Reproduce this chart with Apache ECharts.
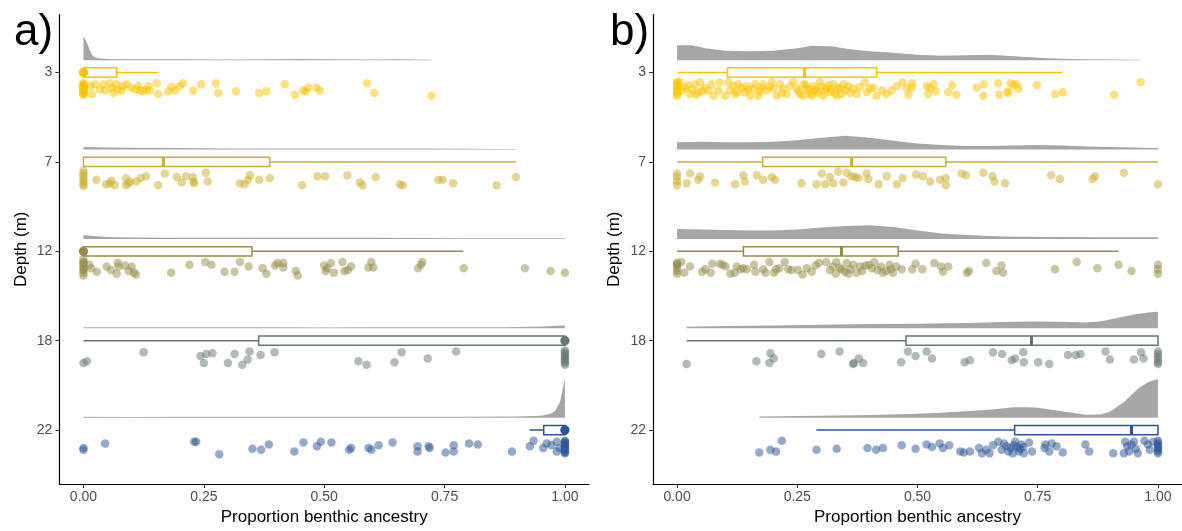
<!DOCTYPE html>
<html><head><meta charset="utf-8">
<script src="https://cdn.jsdelivr.net/npm/echarts@6/dist/echarts.min.js"></script>
<style>html,body{margin:0;padding:0;background:#fff}#c{width:1182px;height:531px}</style>
</head><body><div id="c"></div>
<script>
// ---------- DATA ----------
const depthLabels = ['3','7','12','18','22'];
const xTicks = [0, 0.25, 0.5, 0.75, 1];
const xTitle = 'Proportion benthic ancestry';
const yTitle = 'Depth (m)';
const panelTags = ['a)', 'b)'];

// boxplot stats per depth: [lower whisker, Q1, median, Q3, upper whisker]
const boxA = [
  [0, 0, 0, 0.069, 0.155],
  [0, 0, 0.166, 0.387, 0.898],
  [0, 0, 0, 0.350, 0.789],
  [0, 0.364, 1, 1, 1],
  [0.927, 0.956, 1, 1, 1]
];
const boxB = [
  [0, 0.105, 0.265, 0.415, 0.801],
  [0, 0.178, 0.363, 0.559, 1.0],
  [0, 0.138, 0.342, 0.460, 0.918],
  [0.020, 0.476, 0.737, 1, 1],
  [0.290, 0.702, 0.945, 1, 1]
];

// half-violin densities: [x, relative density]
const densA3 = [[0,24],[0.005,20],[0.01,14],[0.015,8],[0.02,4],[0.03,2],[0.05,1.2],[0.1,1],[0.2,1],[0.3,0.8],[0.4,1],[0.45,1.2],[0.5,1],[0.6,0.8],[0.65,1],[0.723,0.5]];
const densA7 = [[0,2.5],[0.05,2],[0.1,1.8],[0.2,1.5],[0.3,1.2],[0.4,1.2],[0.5,1],[0.6,1],[0.7,1],[0.8,0.8],[0.898,0.5]];
const densA12 = [[0,4],[0.02,3],[0.05,2],[0.1,1.5],[0.2,1.2],[0.3,1.2],[0.4,1.2],[0.5,1.2],[0.6,1.2],[0.7,1],[0.8,0.8],[0.9,0.8],[1,0.8]];
const densA18 = [[0,1],[0.1,1],[0.2,1],[0.3,1],[0.4,1],[0.5,0.9],[0.6,1],[0.7,1],[0.8,1],[0.88,1.2],[0.95,2],[1,3]];
const densA22 = [[0,1],[0.1,0.8],[0.2,1],[0.3,1],[0.4,1],[0.5,1],[0.6,1],[0.7,1],[0.8,1],[0.9,1.2],[0.95,2],[0.97,4],[0.98,7],[0.99,16],[1,40]];
const densB3 = [[0,15],[0.03,15],[0.06,12],[0.1,9.5],[0.15,9],[0.2,9.5],[0.25,12],[0.28,14.5],[0.32,14],[0.36,11],[0.4,9],[0.45,7.5],[0.5,5.5],[0.55,4.5],[0.6,5],[0.65,5.5],[0.7,4],[0.75,2.5],[0.8,1.5],[0.85,1],[0.9,0.8],[0.964,0.5]];
const densB7 = [[0,7.5],[0.05,8],[0.1,7.5],[0.15,7.5],[0.2,8],[0.25,9.5],[0.3,12],[0.35,14],[0.4,12],[0.45,9],[0.5,6],[0.55,4.5],[0.6,3.5],[0.65,3.5],[0.7,4],[0.75,4.5],[0.8,4],[0.85,3],[0.9,2.5],[0.95,2],[1,1.5]];
const densB12 = [[0,10],[0.05,9.5],[0.1,9],[0.15,8.5],[0.2,8.5],[0.25,9.5],[0.3,11.5],[0.35,13],[0.4,13.7],[0.45,12],[0.5,8.5],[0.55,5.5],[0.6,4],[0.65,3],[0.7,2.3],[0.8,2],[0.9,1.8],[1,1.8]];
const densB18 = [[0.02,1.5],[0.1,2.3],[0.2,3],[0.3,3.7],[0.4,4.5],[0.5,4.7],[0.6,5.3],[0.7,6.7],[0.75,7],[0.8,6.7],[0.85,6],[0.88,7],[0.92,11],[0.95,14],[0.98,16],[1,16.7]];
const densB22 = [[0.171,1.2],[0.25,1.7],[0.3,2],[0.4,2.7],[0.5,4],[0.55,5],[0.6,6.5],[0.65,8],[0.7,10.7],[0.73,10.7],[0.75,10],[0.8,6.5],[0.85,3],[0.88,3.3],[0.9,6],[0.93,16],[0.96,30],[0.98,36],[1,39]];

// jittered raw points: [proportion, vertical jitter]
const ptsA3 = [[0,0.12],[0,0.13],[0,0.14],[0,0.15],[0,0.16],[0,0.17],[0,0.18],[0,0.19],[0,0.20],[0,0.21],[0,0.22],[0,0.23],[0,0.24],[0,0.25],
[0.014,0.15],[0.017,0.24],[0.024,0.13],[0.034,0.19],[0.041,0.13],[0.045,0.20],[0.055,0.12],[0.059,0.17],[0.062,0.23],[0.069,0.13],[0.072,0.19],[0.079,0.20],[0.083,0.15],[0.090,0.13],[0.100,0.17],[0.107,0.19],[0.114,0.15],[0.117,0.20],[0.124,0.21],[0.131,0.19],[0.135,0.15],[0.138,0.20],[0.152,0.12],[0.155,0.24],[0.176,0.21],[0.183,0.16],[0.190,0.20],[0.200,0.15],[0.207,0.12],[0.228,0.20],[0.245,0.13],[0.275,0.12],[0.280,0.23],[0.317,0.21],[0.365,0.23],[0.380,0.21],[0.418,0.13],[0.439,0.25],[0.456,0.20],[0.462,0.21],[0.467,0.17],[0.484,0.17],[0.491,0.20],[0.589,0.12],[0.604,0.23],[0.723,0.26]];
const ptsA7 = [[0,0.10],[0,0.13],[0,0.16],[0,0.19],[0,0.22],[0,0.25],[0,0.27],
[0.027,0.20],[0.047,0.25],[0.055,0.24],[0.058,0.21],[0.065,0.26],[0.088,0.18],[0.088,0.26],[0.093,0.24],[0.097,0.22],[0.110,0.22],[0.119,0.18],[0.130,0.16],[0.155,0.26],[0.169,0.13],[0.194,0.17],[0.204,0.23],[0.213,0.16],[0.227,0.17],[0.228,0.22],[0.230,0.24],[0.254,0.12],[0.258,0.22],[0.325,0.24],[0.335,0.25],[0.342,0.20],[0.346,0.15],[0.365,0.20],[0.387,0.18],[0.454,0.26],[0.486,0.16],[0.502,0.16],[0.548,0.15],[0.574,0.23],[0.580,0.26],[0.607,0.17],[0.657,0.25],[0.663,0.26],[0.737,0.20],[0.746,0.20],[0.768,0.24],[0.858,0.26],[0.898,0.17]];
const ptsA12 = [[0,0.09],[0,0.12],[0,0.15],[0,0.18],[0,0.21],[0,0.24],[0,0.27],[0,0.13],[0,0.20],
[0.012,0.15],[0.016,0.19],[0.028,0.23],[0.048,0.17],[0.057,0.21],[0.069,0.25],[0.071,0.13],[0.073,0.17],[0.086,0.16],[0.094,0.22],[0.100,0.17],[0.105,0.24],[0.109,0.26],[0.182,0.24],[0.220,0.15],[0.253,0.12],[0.266,0.15],[0.293,0.23],[0.314,0.23],[0.325,0.12],[0.343,0.17],[0.372,0.19],[0.380,0.25],[0.398,0.16],[0.403,0.13],[0.415,0.13],[0.415,0.18],[0.441,0.22],[0.445,0.27],[0.500,0.16],[0.503,0.22],[0.506,0.19],[0.514,0.13],[0.520,0.24],[0.538,0.12],[0.542,0.22],[0.549,0.21],[0.556,0.17],[0.592,0.18],[0.598,0.12],[0.602,0.18],[0.695,0.19],[0.701,0.15],[0.704,0.12],[0.790,0.19],[0.917,0.19],[0.970,0.22],[1,0.24]];
const ptsA18 = [[0,0.25],[0.007,0.23],[0.125,0.13],[0.243,0.17],[0.255,0.15],[0.268,0.14],[0.250,0.25],[0.300,0.25],[0.314,0.15],[0.330,0.27],[0.341,0.21],[0.345,0.12],[0.368,0.16],[0.397,0.13],[0.571,0.23],[0.588,0.27],[0.646,0.24],[0.661,0.13],[0.715,0.20],[0.774,0.12],
[1,0.11],[1,0.13],[1,0.15],[1,0.17],[1,0.19],[1,0.21],[1,0.23],[1,0.25],[1,0.27]];
const ptsA22 = [[0,0.20],[0,0.22],[0.045,0.15],[0.230,0.13],[0.234,0.13],[0.282,0.27],[0.351,0.21],[0.369,0.22],[0.385,0.16],[0.438,0.24],[0.457,0.14],[0.485,0.18],[0.493,0.13],[0.515,0.14],[0.552,0.22],[0.556,0.20],[0.592,0.20],[0.598,0.22],[0.613,0.17],[0.642,0.14],[0.694,0.18],[0.694,0.24],[0.717,0.18],[0.719,0.20],[0.752,0.25],[0.769,0.17],[0.769,0.24],[0.801,0.15],[0.819,0.16],[0.890,0.24],[0.927,0.18],[0.935,0.12],[0.955,0.20],[0.962,0.15],[0.972,0.17],[0.983,0.24],[0.983,0.13],[0.989,0.20],
[1,0.12],[1,0.14],[1,0.16],[1,0.18],[1,0.20],[1,0.22],[1,0.24],[1,0.26],[1,0.13],[1,0.19],[1,0.25],[1,0.15]];

const ptsB3 = [[0,0.10],[0,0.12],[0,0.14],[0,0.16],[0,0.18],[0,0.20],[0,0.22],[0,0.24],[0,0.26],
[0.006,0.11],[0.012,0.20],[0.017,0.17],[0.022,0.14],[0.027,0.24],[0.031,0.19],[0.037,0.13],[0.040,0.25],[0.044,0.22],[0.048,0.11],[0.052,0.21],[0.058,0.17],[0.065,0.20],[0.072,0.13],[0.076,0.26],[0.086,0.20],[0.089,0.11],[0.100,0.26],[0.107,0.11],[0.110,0.20],[0.117,0.15],[0.121,0.24],[0.125,0.22],[0.127,0.13],[0.134,0.17],[0.141,0.22],[0.145,0.15],[0.148,0.19],[0.152,0.26],[0.159,0.18],[0.162,0.13],[0.169,0.26],[0.172,0.21],[0.176,0.17],[0.179,0.13],[0.186,0.20],[0.193,0.16],[0.197,0.11],[0.200,0.18],[0.207,0.26],[0.214,0.13],[0.218,0.23],[0.221,0.18],[0.228,0.24],[0.235,0.15],[0.242,0.11],[0.249,0.18],[0.253,0.21],[0.256,0.24],[0.262,0.26],[0.263,0.13],[0.268,0.14],[0.270,0.18],[0.274,0.20],[0.277,0.24],[0.281,0.26],[0.283,0.15],[0.286,0.19],[0.290,0.20],[0.293,0.23],[0.297,0.11],[0.300,0.16],[0.304,0.26],[0.307,0.21],[0.311,0.17],[0.315,0.14],[0.318,0.22],[0.320,0.19],[0.325,0.13],[0.328,0.23],[0.332,0.26],[0.335,0.17],[0.339,0.18],[0.342,0.24],[0.346,0.13],[0.350,0.20],[0.356,0.15],[0.360,0.23],[0.367,0.18],[0.374,0.24],[0.380,0.16],[0.391,0.11],[0.395,0.22],[0.401,0.18],[0.408,0.17],[0.415,0.26],[0.426,0.20],[0.436,0.24],[0.446,0.20],[0.457,0.15],[0.469,0.11],[0.478,0.17],[0.481,0.25],[0.488,0.17],[0.489,0.12],
[0.519,0.15],[0.522,0.24],[0.526,0.17],[0.533,0.13],[0.538,0.21],[0.564,0.22],[0.572,0.14],[0.581,0.25],[0.623,0.17],[0.638,0.13],[0.637,0.26],[0.668,0.12],[0.670,0.25],[0.687,0.21],[0.689,0.23],[0.694,0.12],[0.699,0.14],[0.706,0.13],[0.710,0.18],[0.748,0.14],[0.786,0.24],[0.802,0.22],[0.909,0.25],[0.964,0.11]];
const ptsB7 = [[0,0.13],[0,0.17],[0,0.22],[0,0.26],
[0.020,0.24],[0.027,0.13],[0.044,0.20],[0.048,0.16],[0.079,0.23],[0.121,0.25],[0.138,0.15],[0.141,0.22],[0.166,0.15],[0.179,0.20],[0.197,0.17],[0.204,0.20],[0.259,0.24],[0.290,0.25],[0.301,0.13],[0.308,0.25],[0.318,0.17],[0.325,0.24],[0.335,0.11],[0.346,0.23],[0.353,0.12],[0.363,0.16],[0.370,0.17],[0.377,0.18],[0.394,0.13],[0.398,0.19],[0.419,0.25],[0.436,0.16],[0.457,0.25],[0.469,0.18],[0.497,0.14],[0.511,0.16],[0.526,0.22],[0.547,0.20],[0.559,0.18],[0.559,0.26],[0.592,0.13],[0.601,0.15],[0.637,0.12],[0.656,0.16],[0.660,0.22],[0.682,0.24],[0.778,0.15],[0.796,0.19],[0.864,0.19],[0.869,0.16],[0.929,0.12],[1,0.25]];
const ptsB12 = [[0,0.13],[0,0.16],[0,0.19],[0,0.22],[0,0.25],[0,0.14],
[0.009,0.12],[0.015,0.24],[0.027,0.17],[0.052,0.23],[0.059,0.20],[0.073,0.14],[0.070,0.24],[0.089,0.14],[0.095,0.15],[0.101,0.17],[0.111,0.25],[0.120,0.24],[0.124,0.17],[0.132,0.20],[0.138,0.19],[0.145,0.20],[0.160,0.15],[0.163,0.23],[0.179,0.20],[0.184,0.24],[0.192,0.12],[0.202,0.24],[0.206,0.20],[0.213,0.19],[0.224,0.12],[0.231,0.20],[0.238,0.21],[0.251,0.21],[0.261,0.26],[0.270,0.19],[0.280,0.23],[0.288,0.16],[0.295,0.13],[0.310,0.12],[0.318,0.21],[0.324,0.17],[0.330,0.25],[0.331,0.12],[0.338,0.18],[0.342,0.20],[0.349,0.23],[0.353,0.13],[0.356,0.25],[0.360,0.20],[0.367,0.15],[0.373,0.24],[0.381,0.17],[0.385,0.22],[0.392,0.16],[0.399,0.15],[0.405,0.19],[0.410,0.12],[0.417,0.21],[0.424,0.17],[0.428,0.24],[0.435,0.22],[0.442,0.15],[0.445,0.20],[0.449,0.24],[0.456,0.17],[0.467,0.20],[0.489,0.20],[0.496,0.14],[0.510,0.20],[0.535,0.13],[0.549,0.17],[0.553,0.23],[0.564,0.17],[0.603,0.24],[0.607,0.22],[0.643,0.13],[0.664,0.22],[0.675,0.16],[0.678,0.24],[0.786,0.20],[0.831,0.12],[0.874,0.19],[0.918,0.15],[0.945,0.22],[1,0.15],[1,0.20],[1,0.25]];
const ptsB18 = [[1,0.12],[1,0.15],[1,0.18],[1,0.21],[1,0.24],[1,0.26],
[0.020,0.26],[0.165,0.23],[0.192,0.25],[0.194,0.14],[0.201,0.20],[0.300,0.15],[0.338,0.12],[0.366,0.26],[0.368,0.25],[0.378,0.20],[0.387,0.25],[0.466,0.24],[0.480,0.12],[0.496,0.17],[0.519,0.12],[0.530,0.20],[0.598,0.24],[0.609,0.22],[0.657,0.13],[0.676,0.15],[0.696,0.22],[0.703,0.20],[0.720,0.13],[0.721,0.24],[0.751,0.24],[0.774,0.26],[0.813,0.16],[0.829,0.16],[0.839,0.15],[0.891,0.12],[0.900,0.21],[0.950,0.21],[0.965,0.13],[0.970,0.20]];
const ptsB22 = [[1,0.12],[1,0.14],[1,0.16],[1,0.18],[1,0.20],[1,0.22],[1,0.24],[1,0.26],
[0.171,0.25],[0.194,0.22],[0.206,0.24],[0.218,0.12],[0.290,0.22],[0.332,0.21],[0.396,0.20],[0.414,0.22],[0.428,0.20],[0.467,0.17],[0.496,0.21],[0.519,0.16],[0.530,0.19],[0.546,0.15],[0.553,0.20],[0.566,0.17],[0.589,0.24],[0.596,0.25],[0.609,0.24],[0.628,0.20],[0.634,0.26],[0.643,0.22],[0.650,0.26],[0.657,0.17],[0.668,0.13],[0.675,0.22],[0.680,0.15],[0.685,0.18],[0.689,0.24],[0.694,0.20],[0.698,0.26],[0.700,0.17],[0.703,0.13],[0.707,0.19],[0.711,0.24],[0.713,0.21],[0.716,0.16],[0.720,0.19],[0.721,0.26],[0.732,0.14],[0.738,0.24],[0.764,0.20],[0.766,0.16],[0.774,0.24],[0.779,0.15],[0.789,0.18],[0.802,0.25],[0.849,0.16],[0.857,0.24],[0.907,0.26],[0.929,0.26],[0.932,0.13],[0.936,0.18],[0.940,0.24],[0.945,0.16],[0.950,0.13],[0.954,0.21],[0.958,0.26],[0.972,0.12],[0.979,0.16],[0.983,0.22],[0.990,0.13]];

// ---------- STYLE ----------
const COLORS = ['#FBC400', '#CBAE2C', '#968C48', '#66776F', '#2B5597'];
const DENS_COLOR = '#A6A6A6';
const FONT = '"Liberation Sans", Arial, sans-serif';
const DENS_BASE = 0.138;   // gap between box centre and violin baseline (y units)
const DENS_SCALE = 1 / 90; // density -> y units
const BOX_HALF = 0.052;

const panels = [
  { box: boxA, dens: [densA3, densA7, densA12, densA18, densA22], pts: [ptsA3, ptsA7, ptsA12, ptsA18, ptsA22] },
  { box: boxB, dens: [densB3, densB7, densB12, densB18, densB22], pts: [ptsB3, ptsB7, ptsB12, ptsB18, ptsB22] }
];

const chart = echarts.init(document.getElementById('c'));
const series = [];
panels.forEach((pn, p) => {
  series.push({
    type: 'custom', xAxisIndex: p, yAxisIndex: p, silent: true, z: 1,
    data: pn.dens.map((d, i) => [0, i]),
    renderItem: (params, api) => {
      const i = api.value(1);
      const arr = pn.dens[i];
      const base = i - DENS_BASE;
      const pts = arr.map(([x, h]) => api.coord([x, base - h * DENS_SCALE]));
      pts.push(api.coord([arr[arr.length - 1][0], base]));
      pts.push(api.coord([arr[0][0], base]));
      return { type: 'polygon', shape: { points: pts }, style: { fill: DENS_COLOR } };
    }
  });
  series.push({
    type: 'custom', xAxisIndex: p, yAxisIndex: p, silent: true, z: 3,
    data: pn.box.map((b, i) => [b[2], i, b[0], b[1], b[3], b[4]]),
    renderItem: (params, api) => {
      const md = api.value(0), i = api.value(1), lo = api.value(2), q1 = api.value(3), q3 = api.value(4), hi = api.value(5);
      const c = COLORS[i];
      const hh = Math.abs(api.size([0, BOX_HALF])[1]);
      const pLo = api.coord([lo, i]), pHi = api.coord([hi, i]);
      const p1 = api.coord([q1, i]), p3 = api.coord([q3, i]), pm = api.coord([md, i]);
      const ch = [
        { type: 'line', shape: { x1: pLo[0], y1: pLo[1], x2: pHi[0], y2: pHi[1] }, style: { stroke: c, lineWidth: 1.5 } },
        { type: 'rect', shape: { x: p1[0], y: p1[1] - hh, width: p3[0] - p1[0], height: 2 * hh }, style: { fill: '#fff', stroke: c, lineWidth: 1.5 } },
        { type: 'line', shape: { x1: pm[0], y1: pm[1] - hh, x2: pm[0], y2: pm[1] + hh }, style: { stroke: c, lineWidth: 3 } }
      ];
      if (md === q1 || md === q3) ch.push({ type: 'circle', shape: { cx: pm[0], cy: pm[1], r: hh }, style: { fill: c } });
      return { type: 'group', children: ch };
    }
  });
  pn.pts.forEach((arr, i) => {
    series.push({
      type: 'scatter', xAxisIndex: p, yAxisIndex: p, silent: true, z: 4,
      symbolSize: 8.5, itemStyle: { color: COLORS[i], opacity: 0.5 },
      data: arr.map(([x, dy]) => [x, i + dy])
    });
  });
});

const axisText = { color: '#4D4D4D', fontSize: 14, fontFamily: FONT };
chart.setOption({
  animation: false,
  grid: [
    { left: 59.4, right: 593, top: 14.5, bottom: 44.5 },
    { left: 653, right: 0, top: 14.5, bottom: 44.5 }
  ],
  xAxis: [0, 1].map(p => ({
    type: 'value', gridIndex: p, min: -0.05, max: 1.05,
    name: xTitle, nameLocation: 'middle', nameGap: 25,
    nameTextStyle: { fontSize: 17, color: '#000', fontFamily: FONT },
    axisLine: { show: true, onZero: false, lineStyle: { color: '#000', width: 1.2 } },
    axisTick: { show: true, customValues: xTicks, length: 4, lineStyle: { color: '#333' } },
    axisLabel: Object.assign({ customValues: xTicks, formatter: v => v.toFixed(2), margin: 6 }, axisText),
    splitLine: { show: false }
  })),
  yAxis: [0, 1].map(p => ({
    type: 'value', gridIndex: p, inverse: true, min: -0.649, max: 4.603,
    name: yTitle, nameLocation: 'middle', nameGap: 30, nameRotate: 90,
    nameTextStyle: { fontSize: 17, color: '#000', fontFamily: FONT },
    axisLine: { show: true, onZero: false, lineStyle: { color: '#000', width: 1.2 } },
    axisTick: { show: true, customValues: [0, 1, 2, 3, 4], length: 4, lineStyle: { color: '#333' } },
    axisLabel: Object.assign({ customValues: [0, 1, 2, 3, 4], formatter: v => depthLabels[Math.round(v)], margin: 7 }, axisText),
    splitLine: { show: false }
  })),
  graphic: [
    { type: 'text', left: 14, top: 11, style: { text: panelTags[0], font: '44px "Liberation Sans", Arial, sans-serif', fill: '#000' } },
    { type: 'text', left: 610, top: 11, style: { text: panelTags[1], font: '44px "Liberation Sans", Arial, sans-serif', fill: '#000' } }
  ],
  series: series
});
</script>
</body></html>
